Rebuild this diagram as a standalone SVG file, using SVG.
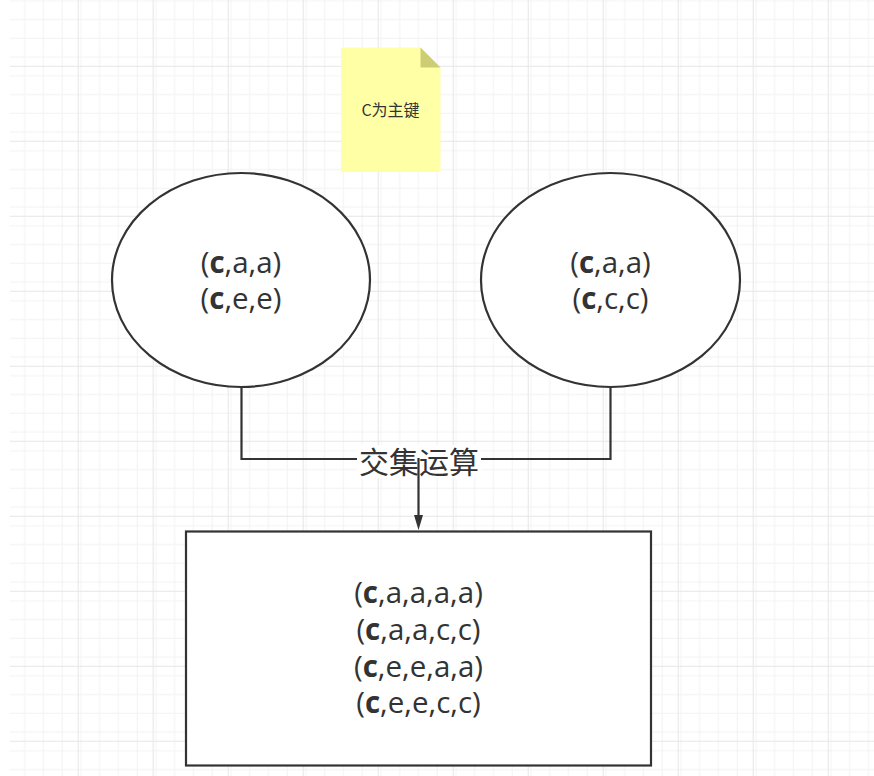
<svg xmlns="http://www.w3.org/2000/svg" width="874" height="776" viewBox="0 0 874 776">
  <defs>
    <pattern id="minor" patternUnits="userSpaceOnUse" x="2.7" y="9.5" width="18.75" height="18.75">
      <path d="M0 0.5 H18.75 M0.5 0 V18.75" fill="none" stroke="#f2f2f2" stroke-width="1"/>
    </pattern>
    <pattern id="major" patternUnits="userSpaceOnUse" x="2.7" y="-9.25" width="75" height="75">
      <rect width="75" height="75" fill="url(#minor)"/>
      <path d="M0 0.5 H75 M0.5 0 V75" fill="none" stroke="#e6e6e6" stroke-width="1"/>
    </pattern>
    <style>
      .shape { fill: #ffffff; stroke: #333333; stroke-width: 2.2; }
      .txt { font-family: "Open Sans", "Noto Sans CJK SC", sans-serif; font-size: 29.5px; fill: #333333; text-anchor: middle; }
      .cjk { font-family: "Noto Sans CJK SC", "Open Sans", sans-serif; fill: #333333; text-anchor: middle; }
      .edge { fill: none; stroke: #333333; stroke-width: 2.2; }
      .b { font-weight: bold; }
    </style>
  </defs>

  <rect x="0" y="0" width="874" height="776" fill="#ffffff"/>
  <rect x="10" y="0" width="864" height="776" fill="url(#major)"/>

  <g id="note">
    <path d="M341 47.5 H420.5 L440.5 67.5 V172 H341 Z" fill="#ffffa6" stroke="none"/>
    <path d="M420.5 47.5 L440.5 67.5 H420.5 Z" fill="#cdcd74"/>
    <text class="cjk" x="390.5" y="116" font-size="16">C为主键</text>
  </g>

  <g id="connectors">
    <path class="edge" d="M241.5 387 V459 H610.5 V387"/>
    <rect x="357" y="445" width="124" height="33" fill="#ffffff"/>
    <text class="cjk" x="419" y="472.5" font-size="30">交集运算</text>
    <path class="edge" d="M418.5 458 V516" />
    <path d="M414 515 L418.5 530 L423 515 Z" fill="#333333"/>
  </g>

  <g id="left-set">
    <ellipse class="shape" cx="241" cy="280" rx="129" ry="107"/>
    <text class="txt" x="241" y="273"><tspan x="241" y="273">(<tspan class="b">c</tspan>,a,a)</tspan><tspan x="241" y="309">(<tspan class="b">c</tspan>,e,e)</tspan></text>
  </g>

  <g id="right-set">
    <ellipse class="shape" cx="610.5" cy="280" rx="129.5" ry="107"/>
    <text class="txt" x="610.5" y="273"><tspan x="610.5" y="273">(<tspan class="b">c</tspan>,a,a)</tspan><tspan x="610.5" y="309">(<tspan class="b">c</tspan>,c,c)</tspan></text>
  </g>

  <g id="result">
    <rect class="shape" x="186" y="531.5" width="465" height="234"/>
    <text class="txt" x="418.5" y="603"><tspan x="418.5" y="603">(<tspan class="b">c</tspan>,a,a,a,a)</tspan><tspan x="418.5" y="640">(<tspan class="b">c</tspan>,a,a,c,c)</tspan><tspan x="418.5" y="676.5">(<tspan class="b">c</tspan>,e,e,a,a)</tspan><tspan x="418.5" y="713">(<tspan class="b">c</tspan>,e,e,c,c)</tspan></text>
  </g>
</svg>
